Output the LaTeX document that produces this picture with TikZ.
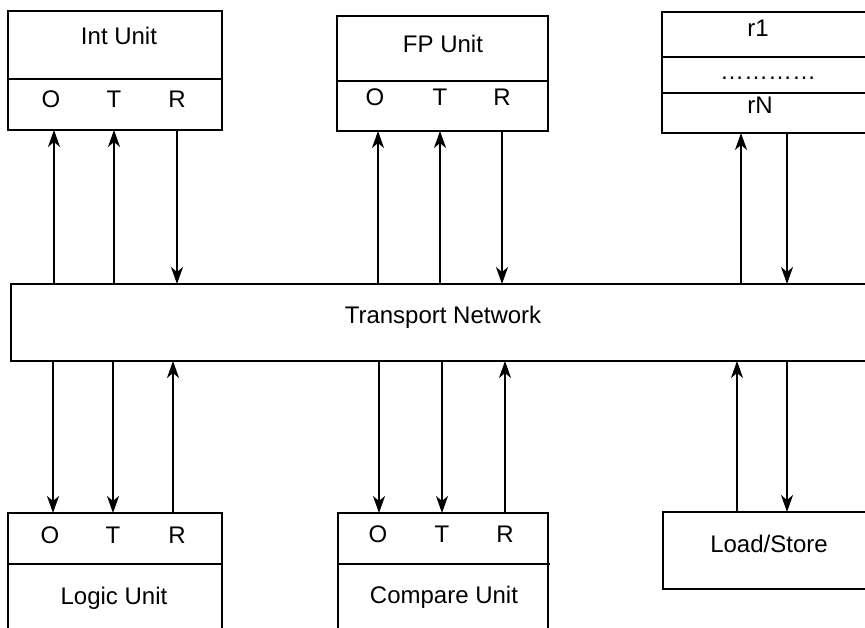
\documentclass[tikz,border=0pt]{standalone}
\usepackage{fontspec}
\setmainfont{Liberation Sans}
\usetikzlibrary{arrows.meta}
\begin{document}
\begin{tikzpicture}[x=1pt,y=-1pt,
  box/.style={draw, line width=1.5pt, inner sep=0pt, outer sep=0pt, anchor=north west},
  lbl/.style={anchor=base, inner sep=0pt, font=\fontsize{24}{28}\selectfont},
  sep/.style={line width=1.5pt},
  arr/.style={line width=1.5pt, -{Stealth[length=17pt,width=12pt,inset=5pt]}}]
\useasboundingbox (0,0) rectangle (865,628);
\clip (0,0) rectangle (865,628);

% functional units and register file (top row)
\node[box, minimum width=214pt, minimum height=119pt] (int) at (8,11) {};
\node[box, minimum width=211pt, minimum height=115pt] (fp) at (337,16) {};
\node[box, minimum width=216pt, minimum height=121pt] (reg) at (662,12) {};
\draw[sep] (int.west |- 0,79) -- (int.east |- 0,79);
\draw[sep] (fp.west |- 0,81) -- (fp.east |- 0,81);
\draw[sep] (reg.west |- 0,57) -- (reg.east |- 0,57);
\draw[sep] (reg.west |- 0,93) -- (reg.east |- 0,93);

\node[lbl] (intname) at (119,45) {Int Unit};
\node[lbl] (intO) at (51,108) {O};
\node[lbl] (intT) at (114,108) {T};
\node[lbl] (intR) at (177,108) {R};
\node[lbl] (fpname) at (443,53) {FP Unit};
\node[lbl] (fpO) at (375,106) {O};
\node[lbl] (fpT) at (440,106) {T};
\node[lbl] (fpR) at (502,106) {R};
\node[lbl] (r1) at (758,37) {r1};
\node[lbl] (rdots) at (768,80) {…………};
\node[lbl] (rN) at (760,114) {rN};

% transport network
\node[box, minimum width=867pt, minimum height=77pt] (net) at (11,284) {};
\node[lbl] (netname) at (443,324) {Transport Network};

% bottom row
\node[box, minimum width=214pt, minimum height=119pt] (logic) at (8,513) {};
\node[box, minimum width=210pt, minimum height=119pt] (cmp) at (338,513) {};
\node[box, minimum width=215pt, minimum height=77pt] (ls) at (663,512) {};
\draw[sep] (logic.west |- 0,564) -- (logic.east |- 0,564);
\draw[sep] (cmp.west |- 0,564) -- ([xshift=2pt]cmp.east |- 0,564);

\node[lbl] (logO) at (50,543) {O};
\node[lbl] (logT) at (113,543) {T};
\node[lbl] (logR) at (177,543) {R};
\node[lbl] (logname) at (114,604) {Logic Unit};
\node[lbl] (cmpO) at (378,542) {O};
\node[lbl] (cmpT) at (442,542) {T};
\node[lbl] (cmpR) at (505,542) {R};
\node[lbl] (cmpname) at (444,603) {Compare Unit};
\node[lbl] (lsname) at (769,552) {Load/Store};

% connections between the network and the units above
\draw[arr] (net.north -| 54,0) -- (int.south -| 54,0);
\draw[arr] (net.north -| 114,0) -- (int.south -| 114,0);
\draw[arr] (int.south -| 177,0) -- (net.north -| 177,0);
\draw[arr] (net.north -| 378,0) -- (fp.south -| 378,0);
\draw[arr] (net.north -| 440,0) -- (fp.south -| 440,0);
\draw[arr] (fp.south -| 502,0) -- (net.north -| 502,0);
\draw[arr] (net.north -| 741,0) -- (reg.south -| 741,0);
\draw[arr] (reg.south -| 787,0) -- (net.north -| 787,0);

% connections between the network and the units below
\draw[arr] (net.south -| 53,0) -- (logic.north -| 53,0);
\draw[arr] (net.south -| 113,0) -- (logic.north -| 113,0);
\draw[arr] (logic.north -| 173,0) -- (net.south -| 173,0);
\draw[arr] (net.south -| 379,0) -- (cmp.north -| 379,0);
\draw[arr] (net.south -| 442,0) -- (cmp.north -| 442,0);
\draw[arr] (cmp.north -| 505,0) -- (net.south -| 505,0);
\draw[arr] (ls.north -| 737,0) -- (net.south -| 737,0);
\draw[arr] (net.south -| 787,0) -- (ls.north -| 787,0);
\end{tikzpicture}
\end{document}
